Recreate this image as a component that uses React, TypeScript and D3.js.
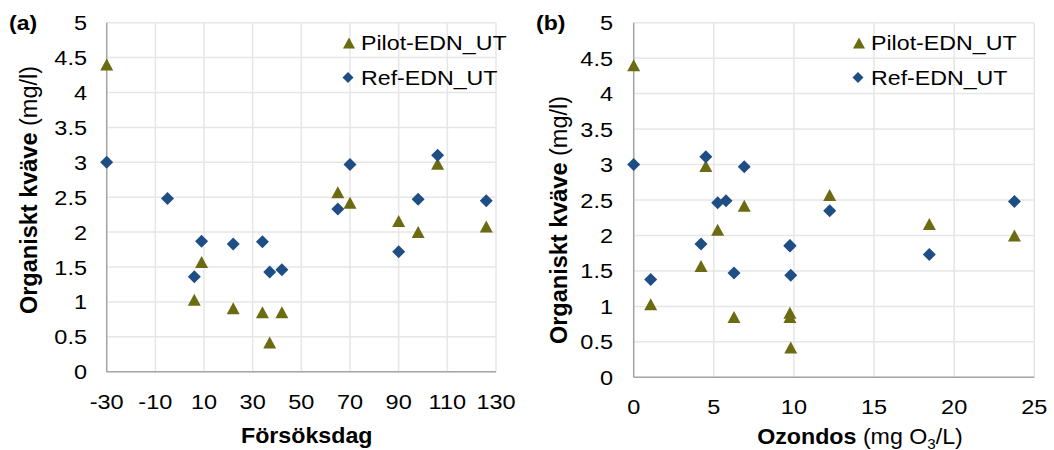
import React from "react";
import * as d3 from "d3";

// ---- data ----
const days = [-30, -5, 6, 9, 22, 34, 37, 42, 65, 70, 90, 98, 106, 126];
const ozoneDose = [0, 5.76, 1.06, 4.2, 9.75, 9.75, 9.8, 6.26, 12.23, 6.9, 18.45, 23.76, 4.5, 5.24];
const pilotEDN = [4.4, null, 1.03, 1.57, 0.91, 0.85, 0.42, 0.85, 2.57, 2.42, 2.16, 2.0, 2.98, 2.08];
const refEDN = [3.0, 2.48, 1.36, 1.87, 1.83, 1.86, 1.43, 1.46, 2.33, 2.97, 1.72, 2.47, 3.1, 2.45];
const ozoneRef = [0, 5.76, 1.06, 4.2, 9.75, 9.75, 9.8, 6.26, 12.23, 6.9, 18.45, 23.76, 4.5, 5.24];
const refB = [3.0, 2.49, 1.38, 1.88, 1.85, 1.86, 1.44, 1.47, 2.35, 2.97, 1.73, 2.48, 3.11, 2.46];
const dayTicks = [-30, -10, 10, 30, 50, 70, 90, 110, 130];
const ozoneTicks = [0, 5, 10, 15, 20, 25];
const yTicks = [0, 0.5, 1, 1.5, 2, 2.5, 3, 3.5, 4, 4.5, 5];
const seriesNames = ["Pilot-EDN_UT", "Ref-EDN_UT"];

const OLIVE = "#6B6B12";
const BLUE = "#1F4E85";
const GRID = "#E6E6E6";
const AXIS = "#A6A6A6";
const FONT = "Liberation Sans, Arial, sans-serif";

function T(props: any) {
  const { x, y, size, sx = 1, anchor = "start", weight = "normal", children, rotate = 0 } = props;
  return (
    <g transform={`translate(${x},${y}) rotate(${rotate}) scale(${sx},1)`}>
      <text fontFamily={FONT} fontSize={size} fontWeight={weight} textAnchor={anchor} fill="#000">
        {children}
      </text>
    </g>
  );
}

const triPath = (cx: number, cy: number, w = 13, h = 12) =>
  `M${cx},${cy - h / 2}L${cx + w / 2},${cy + h / 2}L${cx - w / 2},${cy + h / 2}Z`;
const diaPath = (cx: number, cy: number, s = 6.5) =>
  `M${cx},${cy - s}L${cx + s},${cy}L${cx},${cy + s}L${cx - s},${cy}Z`;

function Panel(props: any) {
  const { x, y, xTicks, xs, ys, pilotX, pilotY, refX, refY, label, labelX, legendX, yTickRight, yTitleX, yTitleY, xTickY, xTitle, xTitleX, xTitleY } = props;
  const [x0, x1] = xs.range();
  const [y0, y1] = ys.range();
  return (
    <g>
      {xTicks.map((t: number) => (
        <line key={"vx" + t} x1={xs(t)} x2={xs(t)} y1={y0} y2={y1} stroke={GRID} strokeWidth={1.5} />
      ))}
      {yTicks.map((t: number) => (
        <line key={"hy" + t} x1={x0} x2={x1} y1={ys(t)} y2={ys(t)} stroke={GRID} strokeWidth={1.5} />
      ))}
      <line x1={x0} x2={x0} y1={y0} y2={y1} stroke={AXIS} strokeWidth={1.5} />
      <line x1={x0} x2={x1} y1={y0} y2={y0} stroke={AXIS} strokeWidth={1.5} />
      {yTicks.map((t: number) => (
        <T key={"yl" + t} x={yTickRight} y={ys(t) + 7.5} size={21} sx={1.12} anchor="end">
          {d3.format("")(t)}
        </T>
      ))}
      {xTicks.map((t: number) => (
        <T key={"xl" + t} x={xs(t)} y={xTickY} size={21} sx={1.12} anchor="middle">
          {t < 0 ? "-" + Math.abs(t) : String(t)}
        </T>
      ))}
      {pilotY.map((v: number | null, i: number) =>
        v == null ? null : <path key={"p" + i} d={triPath(xs(pilotX[i]), ys(v))} fill={OLIVE} />
      )}
      {refY.map((v: number | null, i: number) =>
        v == null ? null : <path key={"r" + i} d={diaPath(xs(refX[i]), ys(v))} fill={BLUE} />
      )}
      {/* legend */}
      <path d={triPath(legendX, 43, 12, 11)} fill={OLIVE} />
      <T x={legendX + 12} y={49.5} size={20} sx={1.16}>{seriesNames[0]}</T>
      <path d={diaPath(legendX - 1, 77.5, 5.5)} fill={BLUE} />
      <T x={legendX + 12} y={84.5} size={20} sx={1.16}>{seriesNames[1]}</T>
      {/* panel label */}
      <T x={labelX} y={30} size={20} sx={1.15} weight="bold">{label}</T>
      {/* y title */}
      <g transform={`translate(${yTitleX},${yTitleY}) rotate(-90)`}>
        <text fontFamily={FONT} fontSize={23.5} textAnchor="middle" fill="#000">
          <tspan fontWeight="bold">Organiskt kväve</tspan>
          <tspan> (mg/l)</tspan>
        </text>
      </g>
      {/* x title */}
      <g transform={`translate(${xTitleX},${xTitleY}) scale(1.08,1)`}>
        <text fontFamily={FONT} fontSize={21.5} textAnchor="middle" fill="#000">
          {xTitle}
        </text>
      </g>
    </g>
  );
}

export default function App() {
  const xa = d3.scaleLinear().domain([-30, 130]).range([106.7, 496]);
  const ya = d3.scaleLinear().domain([0, 5]).range([371.7, 22.7]);
  const xb = d3.scaleLinear().domain([0, 25]).range([633.7, 1034.3]);
  const yb = d3.scaleLinear().domain([0, 5]).range([377.3, 22.7]);
  return (
    <svg width={1054} height={450} style={{ position: "absolute", left: 0, top: 0, background: "#fff" }}>
      <rect width={1054} height={450} fill="#fff" />
      <Panel
        xTicks={dayTicks}
        xs={xa}
        ys={ya}
        pilotX={days}
        pilotY={pilotEDN}
        refX={days}
        refY={refEDN}
        label="(a)"
        labelX={9}
        legendX={349}
        yTickRight={87}
        yTitleX={37}
        yTitleY={190}
        xTickY={409}
        xTitle={<tspan fontWeight="bold">Försöksdag</tspan>}
        xTitleX={306.7}
        xTitleY={442.5}
      />
      <Panel
        xTicks={ozoneTicks}
        xs={xb}
        ys={yb}
        pilotX={ozoneDose}
        pilotY={pilotEDN}
        refX={ozoneRef}
        refY={refB}
        label="(b)"
        labelX={536}
        legendX={859}
        yTickRight={613}
        yTitleX={567}
        yTitleY={220}
        xTickY={414}
        xTitle={
          <>
            <tspan fontWeight="bold">Ozondos</tspan>
            <tspan> (mg O</tspan>
            <tspan fontSize={14} dy={5}>3</tspan>
            <tspan dy={-5}>/L)</tspan>
          </>
        }
        xTitleX={860}
        xTitleY={443.5}
      />
    </svg>
  );
}
